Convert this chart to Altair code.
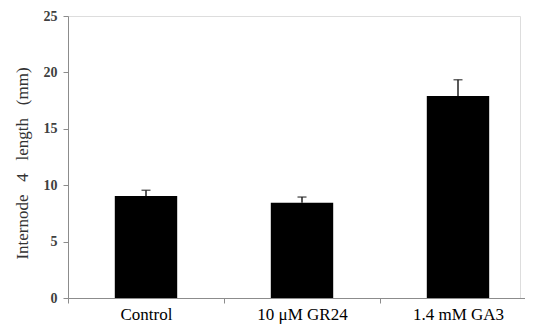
import altair as alt
import pandas as pd

categories = ["Control", "10 μM GR24", "1.4 mM GA3"]
means = [9.05, 8.45, 17.9]
errors = [0.5, 0.5, 1.45]

df = pd.DataFrame({"cat": categories, "mean": means, "err": errors})
df["top"] = df["mean"] + df["err"]

x = alt.X("cat:N", sort=categories, title=None,
          scale=alt.Scale(paddingInner=0, paddingOuter=0, range=[0, 468]),
          axis=alt.Axis(labelAngle=0, labelFont="Liberation Serif", labelFontSize=17,
                        labelColor="#000000", domainColor="#8c8c8c", tickColor="#8c8c8c",
                        tickBand="extent", tickSize=5, labelPadding=3))

nb = "\u00a0"
y_axis = alt.Axis(values=[0, 5, 10, 15, 20, 25], grid=False,
                  labelFont="Liberation Serif", labelFontSize=14, labelFontWeight="bold",
                  labelColor="#404040", domainColor="#8c8c8c", tickColor="#8c8c8c",
                  tickSize=5, labelPadding=6,
                  title=f"Internode{nb*3}4{nb*3}length{nb*3}(mm)", titleFont="Liberation Serif",
                  titleFontSize=17, titleFontWeight="normal", titleColor="#333333",
                  titlePadding=12, titleY=147)

base = alt.Chart(df)
bars = base.mark_bar(color="black", width={"band": 0.4}).encode(
    x=x, y=alt.Y("mean:Q", scale=alt.Scale(domain=[0, 25], nice=False), axis=y_axis))
rule = base.mark_rule(color="#222222", strokeWidth=1.5).encode(
    x=alt.X("cat:N", sort=categories), y="mean:Q", y2="top:Q")
cap = base.mark_tick(color="#222222", thickness=1.5, size=9, orient="horizontal").encode(
    x=alt.X("cat:N", sort=categories), y="top:Q")

chart = alt.layer(bars, rule, cap).properties(
    width=452, height=282,
    padding={"left": 60, "top": 8, "right": 5, "bottom": 28},
    autosize=alt.AutoSizeParams(type="none"),
).configure_view(stroke=None).configure(background="white")

chart.save("out.html", embed_options={"renderer": "svg", "actions": False})
